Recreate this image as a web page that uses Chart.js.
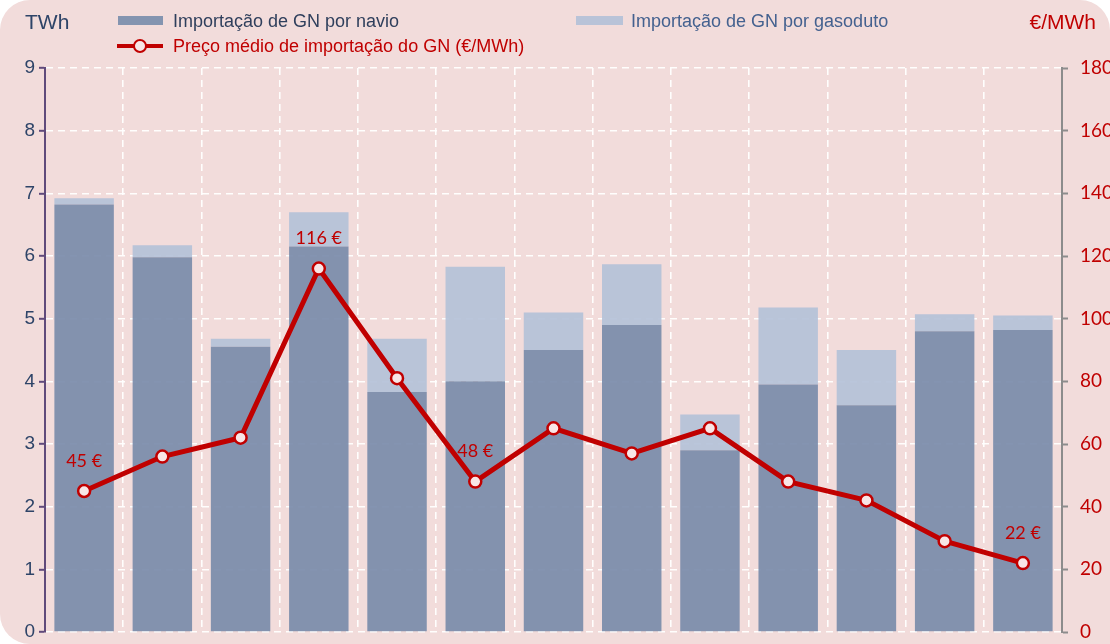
<!DOCTYPE html>
<html>
<head>
<meta charset="utf-8">
<script src="https://cdn.jsdelivr.net/npm/chart.js@4/dist/chart.umd.min.js"></script>
<style>
  html, body { margin:0; padding:0; background:#ffffff; }
  #wrap { position:relative; width:1110px; height:644px; background:#F2DCDB; border-radius:30px 30px 0 30px; overflow:hidden; }
  #c { position:absolute; left:0; top:0; }
  .t { position:absolute; font-family:"Liberation Sans", Arial, sans-serif; white-space:nowrap; line-height:1; }
  .box { position:absolute; }
</style>
</head>
<body>
<div id="wrap">
  <canvas id="c" width="1110" height="644"></canvas>
  <div class="t" style="left:25px;top:11px;font-size:21px;color:#2E4468;">TWh</div>
  <div class="t" style="right:14px;top:11px;font-size:21px;color:#C00000;">€/MWh</div>
  <div class="box" style="left:118px;top:16px;width:45px;height:9px;background:#8494B0;"></div>
  <div class="t" style="left:173px;top:12px;font-size:18px;color:#2F3F5C;">Importação de GN por navio</div>
  <div class="box" style="left:576px;top:16px;width:47px;height:9px;background:#B9C3D8;"></div>
  <div class="t" style="left:631px;top:12px;font-size:18px;color:#44618F;">Importação de GN por gasoduto</div>
  <div class="box" style="left:117px;top:44px;width:46px;height:4px;background:#C00000;"></div>
  <div class="box" style="left:133px;top:39px;width:10px;height:10px;border:2.5px solid #C00000;border-radius:50%;background:#F8E6E6;"></div>
  <div class="t" style="left:173px;top:37px;font-size:18px;color:#C00000;">Preço médio de importação do GN (€/MWh)</div>
</div>
<script>
const categories = ["P1","P2","P3","P4","P5","P6","P7","P8","P9","P10","P11","P12","P13"];
const navio    = [6.82, 5.98, 4.55, 6.15, 3.83, 4.00, 4.50, 4.90, 2.90, 3.95, 3.62, 4.80, 4.82];
const gasoduto = [0.10, 0.19, 0.13, 0.55, 0.85, 1.83, 0.60, 0.97, 0.57, 1.23, 0.88, 0.27, 0.23];
const preco    = [45, 56, 62, 116, 81, 48, 65, 57, 65, 48, 42, 29, 22];
const labelledPoints = [0, 3, 5, 12];
const leftTicks  = [0,1,2,3,4,5,6,7,8,9];
const rightTicks = [0,20,40,60,80,100,120,140,160,180];

const priceLabels = {
  id: 'priceLabels',
  afterDatasetsDraw(chart) {
    const ctx = chart.ctx;
    const meta = chart.getDatasetMeta(2);
    ctx.save();
    ctx.font = '18px Lato, "Open Sans", sans-serif';
    ctx.fillStyle = '#C00000';
    ctx.textAlign = 'center';
    ctx.textBaseline = 'middle';
    labelledPoints.forEach(i => {
      const p = meta.data[i];
      ctx.fillText(Math.round(preco[i]) + ' €', p.x, p.y - 30);
    });
    ctx.restore();
  }
};

function noOverhang(s, w) { s.width = w; s.paddingTop = 0; s.paddingBottom = 0; }

new Chart(document.getElementById('c'), {
  type: 'bar',
  data: {
    labels: categories,
    datasets: [
      { label: 'Importação de GN por navio', data: navio, backgroundColor: 'rgba(121,139,170,0.92)', stack: 's', order: 2, barPercentage: 0.76, categoryPercentage: 1.0 },
      { label: 'Importação de GN por gasoduto', data: gasoduto, backgroundColor: 'rgba(180,193,216,0.92)', stack: 's', order: 2, barPercentage: 0.76, categoryPercentage: 1.0 },
      { type: 'line', label: 'Preço médio de importação do GN (€/MWh)', data: preco, yAxisID: 'y2', order: 0,
        borderColor: '#C00000', borderWidth: 5, tension: 0,
        pointRadius: 6, pointBorderWidth: 2.5, pointBackgroundColor: '#F8E6E6', pointBorderColor: '#C00000' }
    ]
  },
  options: {
    responsive: false,
    animation: false,
    devicePixelRatio: 1,
    layout: { padding: { top: 68, bottom: 12, left: 0, right: 0 } },
    plugins: { legend: { display: false }, tooltip: { enabled: false } },
    scales: {
      x: {
        stacked: true,
        offset: true,
        ticks: { display: false },
        grid: { display: true, offset: true, color: 'rgba(255,255,255,0.95)', lineWidth: 1.6, drawTicks: false },
        border: { display: false, dash: [7, 5] },
        afterFit(s) { s.height = 0; s.paddingLeft = 0; s.paddingRight = 0; }
      },
      y: {
        position: 'left',
        stacked: true,
        min: 0, max: 9,
        afterBuildTicks(s) { s.ticks = leftTicks.map(v => ({ value: v })); },
        ticks: { color: '#2E4468', font: { family: '"Liberation Sans", Arial, sans-serif', size: 19 }, padding: 4 },
        grid: { color: 'rgba(255,255,255,0.95)', lineWidth: 1.6, tickColor: '#604A7B', tickLength: 6, tickWidth: 2 },
        border: { display: true, color: '#604A7B', width: 2, dash: [7, 5] },
        afterFit(s) { noOverhang(s, 45); }
      },
      y2: {
        position: 'right',
        min: 0, max: 180,
        afterBuildTicks(s) { s.ticks = rightTicks.map(v => ({ value: v })); },
        ticks: { color: '#C00000', font: { family: 'Lato, "Open Sans", sans-serif', size: 19 }, padding: 12 },
        grid: { drawOnChartArea: false, tickColor: '#8C8C8C', tickLength: 6, tickWidth: 2 },
        border: { display: true, color: '#8C8C8C', width: 2 },
        afterFit(s) { noOverhang(s, 48); }
      }
    }
  },
  plugins: [priceLabels]
});
</script>
</body>
</html>
